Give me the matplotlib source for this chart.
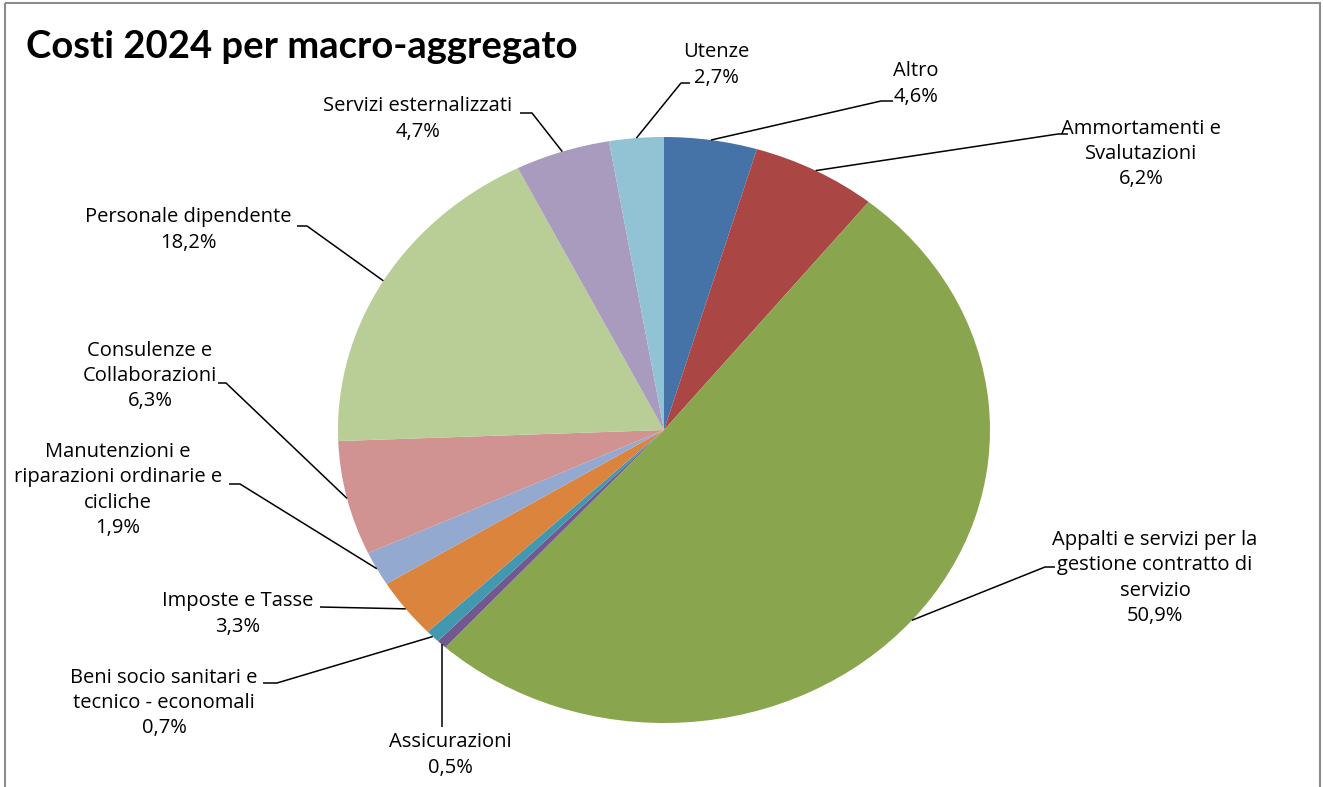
import numpy as np
import matplotlib
matplotlib.use("Agg")
import matplotlib.pyplot as plt
from matplotlib.patches import Rectangle

plt.rcParams['font.family'] = ['Open Sans', 'DejaVu Sans']

# data, clockwise from 12 o'clock
categories = ["Altro", "Ammortamenti e\nSvalutazioni",
              "Appalti e servizi per la\ngestione contratto di\nservizio",
              "Assicurazioni", "Beni socio sanitari e\ntecnico - economali",
              "Imposte e Tasse", "Manutenzioni e\nriparazioni ordinarie e\ncicliche",
              "Consulenze e\nCollaborazioni", "Personale dipendente",
              "Servizi esternalizzati", "Utenze"]
percent = [4.6, 6.2, 50.9, 0.5, 0.7, 3.3, 1.9, 6.3, 18.2, 4.7, 2.7]
colors = ['#4572A7', '#AA4643', '#89A54E', '#71588F', '#4198AF', '#DB843D',
          '#93A9CF', '#D19392', '#B9CD96', '#A99BBD', '#92C3D5']

# label layout in pixels: block centre, elbow of leader, end of stub
label_pos = [(916, 84), (1141, 154), (1155, 578), (450, 755), (164, 703),
             (238, 614), (118, 490), (150, 376), (188, 230), (418, 119), (716, 65)]
elbow = [(881, 101), (1058, 134), (1045, 567), (None, 727), (277, 683),
         (320, 607), (240, 484), (226, 383), (307, 226), (532, 113), (681, 83)]
stub_end = [893, 1068, 1055, None, 263, None, 229, 218, 297, 520, 690]

W, H = 1323, 787
fig = plt.figure(figsize=(W / 100, H / 100), dpi=100)

# pie (slightly stretched, like the original)
cx, cy, rx, ry = 664, 430, 326, 293
ax_pie = fig.add_axes([(cx - rx) / W, 1 - (cy + ry) / H, 2 * rx / W, 2 * ry / H])
wedges, _ = ax_pie.pie(percent, colors=colors, startangle=90, counterclock=False,
                       radius=1, wedgeprops=dict(linewidth=0))
ax_pie.set_aspect('auto')
ax_pie.set_xlim(-1, 1)
ax_pie.set_ylim(-1, 1)
ax_pie.axis('off')

# overlay in pixel coordinates
ax = fig.add_axes([0, 0, 1, 1])
ax.set_xlim(0, W)
ax.set_ylim(H, 0)
ax.axis('off')
ax.patch.set_alpha(0)

ax.add_patch(Rectangle((5, 3), W - 8, H + 10, fill=False, edgecolor='#8c8c8c', lw=1.5))

ax.text(26, 47, "Costi 2024 per macro-aggregato", fontsize=27.5, fontweight='bold',
        family=['Lato', 'DejaVu Sans'], ha='left', va='center')

for w, name, p, (tx, ty), (ex, ey), sx in zip(wedges, categories, percent,
                                              label_pos, elbow, stub_end):
    mid = np.deg2rad((w.theta1 + w.theta2) / 2)
    disp = ax_pie.transData.transform((np.cos(mid), np.sin(mid)))
    px, py = ax.transData.inverted().transform(disp)
    if ex is None:
        ex = px
    xs, ys = [px, ex], [py, ey]
    if sx is not None:
        xs.append(sx)
        ys.append(ey)
    ax.plot(xs, ys, color='black', lw=1.1, solid_capstyle='butt')
    txt = name + "\n" + ("%.1f%%" % p).replace('.', ',')
    ax.text(tx, ty, txt, fontsize=14.5, ha='center', va='center',
            linespacing=1.36, multialignment='center')

fig.savefig("out.png", dpi=100, facecolor='white')
